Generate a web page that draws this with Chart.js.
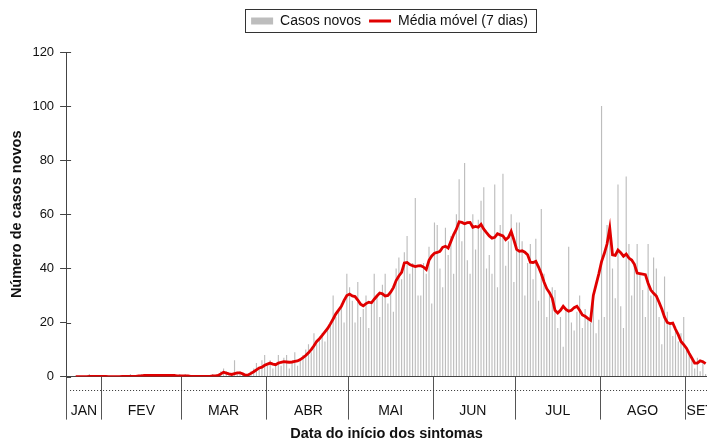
<!DOCTYPE html>
<html>
<head>
<meta charset="utf-8">
<script src="https://cdn.jsdelivr.net/npm/chart.js@4.4.0/dist/chart.umd.min.js"></script>
<style>
  html, body { margin: 0; padding: 0; background: #fff; }
  #wrap { width: 707px; height: 443px; }
</style>
</head>
<body>
<div id="wrap"><canvas id="grafico"></canvas></div>
<script>
// meses do eixo x (o primeiro dia visível é 19/01)
const meses = ["JAN", "FEV", "MAR", "ABR", "MAI", "JUN", "JUL", "AGO", "SET"];
const diasNoMes = [13, 29, 31, 30, 31, 30, 31, 31, 8];
const primeiroDia = [19, 1, 1, 1, 1, 1, 1, 1, 1];
const diaDoRotulo = [25, 15, 16, 16, 16, 15, 16, 16, 6]; // dia onde fica o nome do mês
const yTicks = [0, 20, 40, 60, 80, 100, 120];

// casos novos por dia
const casosJan = [0, 0, 0, 0, 0, 0, 0, 0, 1, 0, 0, 0, 0];
const casosFev = [0, 0, 0, 0, 0, 0, 0, 0, 0, 0, 1, 0, 0, 0, 1, 0, 1, 0, 1, 0, 0, 1, 0, 1, 0, 1, 0, 0, 1];
const casosMar = [0, 1, 0, 0, 0, 0, 0, 0, 0, 0, 0, 1, 0, 1, 2, 3, 2, 1, 0, 6, 1, 2, 1, 0, 1, 2, 3, 5, 3, 6, 8];
const casosAbr = [4, 6, 3, 5, 8, 4, 7, 8, 3, 5, 9, 4, 6, 8, 10, 12, 9, 16, 12, 14, 16, 13, 18, 20, 30, 22, 25, 27, 20, 38];
const casosMai = [33, 28, 20, 35, 22, 25, 30, 18, 28, 38, 30, 22, 34, 38, 27, 31, 24, 40, 44, 36, 46, 52, 38, 42, 66, 30, 30, 42, 38, 48, 27];
const casosJun = [57, 56, 40, 33, 55, 45, 52, 38, 60, 73, 50, 79, 43, 38, 60, 47, 58, 65, 70, 40, 45, 38, 71, 33, 56, 75, 41, 50, 60, 35];
const casosJul = [57, 57, 50, 30, 42, 49, 36, 51, 28, 62, 38, 22, 30, 33, 32, 18, 22, 11, 25, 48, 20, 17, 24, 30, 18, 25, 22, 20, 28, 16, 21];
const casosAgo = [100, 22, 56, 56, 40, 29, 71, 26, 18, 74, 49, 30, 42, 49, 38, 32, 22, 49, 30, 44, 40, 22, 12, 37, 24, 20, 15, 18, 13, 16, 22];
const casosSet = [10, 9, 6, 3, 7, 2, 6, 1];

// média móvel (7 dias)
const mediaJan = [null, null, null, 0, 0, 0, 0, 0, 0.1, 0.1, 0.1, 0.1, 0.1];
const mediaFev = [0.1, 0.1, 0, 0, 0, 0, 0, 0.1, 0.1, 0.1, 0.1, 0.1, 0.1, 0.3, 0.3, 0.4, 0.4, 0.4, 0.4, 0.4, 0.4, 0.4, 0.4, 0.4, 0.4, 0.4, 0.4, 0.3, 0.3];
const mediaMar = [0.3, 0.3, 0.3, 0.1, 0.1, 0.1, 0.1, 0.1, 0.1, 0.1, 0.1, 0.3, 0.3, 0.4, 1.0, 1.6, 1.3, 1.0, 0.8, 1.1, 1.4, 1.4, 1.0, 0.5, 0.6, 1.2, 1.8, 2.5, 3.2, 3.5, 4.2];
const mediaAbr = [4.6, 5.0, 4.6, 4.4, 5.0, 5.3, 5.5, 5.4, 5.3, 5.4, 5.6, 5.8, 6.3, 7.0, 7.8, 8.8, 10.0, 11.4, 13.0, 14.0, 15.2, 16.5, 17.8, 19.5, 21.3, 23.2, 24.6, 26.0, 28.2, 30.0];
const mediaMai = [30.5, 29.8, 29.6, 28.3, 26.8, 26.2, 27.0, 27.5, 27.3, 28.6, 29.8, 30.9, 30.6, 29.8, 30.0, 31.2, 32.9, 35.5, 37.2, 38.5, 42.0, 42.2, 41.4, 41.0, 40.7, 40.9, 41.0, 40.5, 39.6, 43.0, 44.6];
const mediaJun = [45.6, 45.9, 46.3, 47.8, 48.2, 47.5, 50.0, 52.5, 54.5, 57.2, 57.0, 56.5, 56.9, 57.0, 55.2, 55.5, 55.2, 56.3, 54.5, 53.2, 52.0, 51.2, 51.5, 52.8, 52.4, 52.0, 50.6, 51.5, 53.7, 50.5];
const mediaJul = [47.0, 46.3, 46.5, 46.0, 45.0, 42.3, 42.2, 42.6, 40.5, 38.0, 35.0, 32.5, 31.0, 29.0, 24.5, 23.5, 24.5, 26.0, 24.8, 24.2, 24.5, 25.5, 26.0, 24.5, 22.8, 22.3, 21.5, 20.8, 30.0, 34.0, 38.0];
const mediaAgo = [42.5, 45.5, 49.0, 54.9, 45.0, 44.8, 46.8, 45.8, 44.5, 45.3, 43.8, 43.1, 41.5, 38.3, 38.1, 37.9, 37.7, 34.5, 32.0, 30.8, 29.8, 27.5, 25.0, 22.0, 20.0, 19.6, 19.8, 17.5, 15.5, 13.0, 11.8];
const mediaSet = [10.5, 8.6, 6.8, 5.0, 5.0, 5.8, 5.5, 4.8];

const casos = [].concat(casosJan, casosFev, casosMar, casosAbr, casosMai, casosJun, casosJul, casosAgo, casosSet);
const media = [].concat(mediaJan, mediaFev, mediaMar, mediaAbr, mediaMai, mediaJun, mediaJul, mediaAgo, mediaSet);

// rótulos dd/mm, início de cada mês e posição do nome
let dias = [];
let inicioMes = [];
let rotuloMes = {};
for (let m = 0; m < meses.length; m++) {
  inicioMes.push(dias.length);
  for (let d = 0; d < diasNoMes[m]; d++) {
    const dia = primeiroDia[m] + d;
    if (dia == diaDoRotulo[m]) rotuloMes[dias.length] = meses[m];
    dias.push(String(dia).padStart(2, "0") + "/" + String(m + 1).padStart(2, "0"));
  }
}

const corEixo = "#444";
const fonte = "'Liberation Sans', Arial, sans-serif";

// legenda um pouco mais alta, centrada sobre a área do gráfico e com moldura
const legendaPlugin = {
  id: "legendaPlugin",
  beforeInit(chart) {
    const fitOrig = chart.legend.fit;
    chart.legend.fit = function () {
      fitOrig.call(this);
      this.height += 14;
    };
  },
  afterLayout(chart) {
    chart.legend.left = chart.chartArea.left + 6;
    chart.legend.right = chart.chartArea.right;
  },
  afterDraw(chart) {
    const ctx = chart.ctx;
    const boxes = chart.legend.legendHitBoxes;
    if (!boxes || !boxes.length) return;
    const first = boxes[0], last = boxes[boxes.length - 1];
    const cy = first.top + first.height / 2;
    ctx.save();
    ctx.strokeStyle = "#333";
    ctx.lineWidth = 1;
    ctx.strokeRect(Math.round(first.left - 6) + 0.5, Math.round(cy - 12) + 0.5,
      Math.round(last.left + last.width - first.left + 14), 23);
    ctx.restore();

    // linha pontilhada abaixo do zero
    const y = Math.round(chart.scales.y.getPixelForValue(-5)) + 0.5;
    ctx.save();
    ctx.strokeStyle = "#333";
    ctx.lineWidth = 1;
    ctx.setLineDash([1, 2]);
    ctx.beginPath();
    ctx.moveTo(chart.chartArea.left + 4, y);
    ctx.lineTo(chart.chartArea.right, y);
    ctx.stroke();
    ctx.restore();

    // pequeno traço dos ticks do eixo y para dentro do gráfico
    const sy = chart.scales.y;
    ctx.save();
    ctx.strokeStyle = corEixo;
    ctx.lineWidth = 1;
    ctx.beginPath();
    sy.ticks.forEach((t) => {
      const py = Math.round(sy.getPixelForValue(t.value)) + 0.5;
      ctx.moveTo(chart.chartArea.left, py);
      ctx.lineTo(chart.chartArea.left + 5, py);
    });
    ctx.stroke();
    ctx.restore();
  }
};

new Chart(document.getElementById("grafico"), {
  type: "bar",
  data: {
    labels: dias,
    datasets: [
      {
        label: "Casos novos",
        data: casos,
        backgroundColor: "#bdbdbd",
        barPercentage: 0.42,
        categoryPercentage: 1.0,
        order: 2
      },
      {
        type: "line",
        label: "Média móvel (7 dias)",
        data: media,
        borderColor: "#e00000",
        backgroundColor: "#e00000",
        borderWidth: 2.8,
        pointRadius: 0,
        tension: 0,
        spanGaps: false,
        order: 1
      }
    ]
  },
  options: {
    responsive: true,
    maintainAspectRatio: false,
    animation: false,
    layout: { padding: { top: 6, left: 0, right: 0, bottom: 0 } },
    plugins: {
      tooltip: { enabled: false },
      legend: {
        position: "top",
        labels: {
          font: { family: fonte, size: 14 },
          color: "#111",
          usePointStyle: true,
          pointStyleWidth: 22,
          boxHeight: 7,
          padding: 8,
          generateLabels(chart) {
            const itens = Chart.defaults.plugins.legend.labels.generateLabels(chart);
            itens.sort((a, b) => a.datasetIndex - b.datasetIndex);
            itens.forEach((it) => {
              if (it.datasetIndex == 0) {
                it.pointStyle = "rect";
                it.fillStyle = "#bdbdbd";
                it.strokeStyle = "#bdbdbd";
                it.lineWidth = 0;
              } else {
                it.pointStyle = "line";
                it.strokeStyle = "#e00000";
                it.lineWidth = 3;
              }
            });
            return itens;
          }
        }
      }
    },
    scales: {
      x: {
        offset: true,
        border: { display: true, color: corEixo, width: 1 },
        grid: {
          offset: true,
          drawOnChartArea: false,
          drawTicks: true,
          tickLength: 43,
          color: (c) => (c.index !== undefined && inicioMes.includes(c.index)) ? "#555" : "rgba(0,0,0,0)"
        },
        ticks: {
          autoSkip: false,
          maxRotation: 0,
          minRotation: 0,
          padding: -17,
          color: "#111",
          font: { family: fonte, size: 14 },
          callback: (v, i) => rotuloMes[i] || ""
        },
        title: {
          display: true,
          text: "Data do início dos sintomas",
          color: "#111",
          font: { family: fonte, size: 14.5, weight: "bold" },
          padding: { top: 23.2, bottom: 0 }
        }
      },
      y: {
        min: 0,
        max: 120,
        afterBuildTicks: (s) => { s.ticks = yTicks.map((v) => ({ value: v })); },
        border: { display: true, color: corEixo, width: 1 },
        grid: {
          drawOnChartArea: false,
          drawTicks: true,
          tickLength: 6,
          color: corEixo
        },
        ticks: {
          padding: 6,
          color: "#111",
          font: { family: fonte, size: 13 }
        },
        title: {
          display: true,
          text: "Número de casos novos",
          color: "#111",
          font: { family: fonte, size: 14.5, weight: "bold" },
          padding: { top: 8.5, bottom: 0.5 }
        }
      }
    }
  },
  plugins: [legendaPlugin]
});
</script>
</body>
</html>
